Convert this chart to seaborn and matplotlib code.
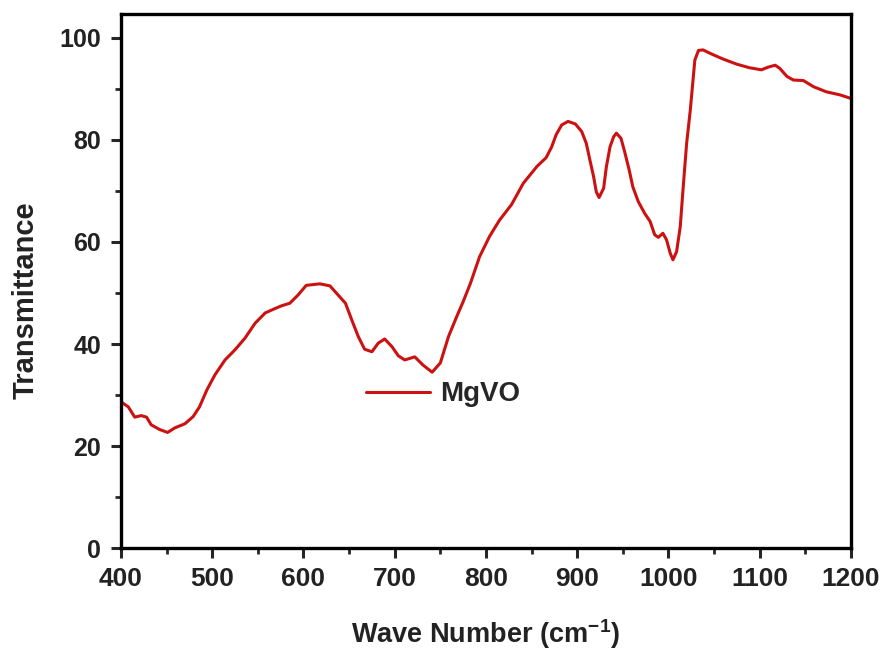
import pandas as pd
import seaborn as sns
import matplotlib.pyplot as plt
from matplotlib.ticker import MultipleLocator

# FTIR spectrum
wave_number = [400, 408, 415, 422, 428, 433, 442, 451, 459, 470, 479, 486, 494, 503,
               514, 525, 536, 547, 558, 568, 576, 585, 594, 603, 618, 629, 636, 646,
               653, 660, 667, 675, 682, 689, 697, 704, 711, 722, 731, 741, 750, 759,
               768, 775, 783, 793, 804, 815, 828, 841, 856, 866, 872, 877, 883, 890,
               898, 905, 910, 914, 918, 921, 924, 929, 932, 936, 940, 943, 948, 952,
               957, 961, 967, 974, 980, 985, 989, 994, 998, 1002, 1005, 1009, 1013,
               1016, 1020, 1024, 1027, 1029, 1033, 1038, 1046, 1060, 1075, 1089, 1102,
               1109, 1117, 1122, 1130, 1137, 1148, 1159, 1173, 1188, 1200]
transmittance = [28.7, 27.7, 25.7, 26.0, 25.7, 24.2, 23.3, 22.7, 23.6, 24.4, 25.8, 27.7,
                 31.0, 34.0, 36.9, 38.9, 41.2, 44.1, 46.1, 46.9, 47.5, 48.0, 49.6, 51.5,
                 51.8, 51.4, 50.0, 48.0, 44.7, 41.5, 39.0, 38.5, 40.2, 41.0, 39.5, 37.7,
                 36.9, 37.5, 35.9, 34.5, 36.3, 41.5, 45.4, 48.3, 51.9, 57.1, 61.1, 64.3,
                 67.3, 71.5, 74.8, 76.5, 78.6, 81.0, 82.9, 83.6, 83.1, 81.6, 79.3, 76.0,
                 72.8, 69.8, 68.7, 70.5, 74.7, 78.6, 80.6, 81.3, 80.3, 77.7, 74.1, 70.8,
                 67.9, 65.6, 64.0, 61.4, 60.9, 61.7, 60.4, 57.8, 56.5, 58.1, 63.0, 70.2,
                 79.3, 85.8, 91.7, 95.6, 97.5, 97.6, 96.9, 95.8, 94.8, 94.1, 93.7, 94.2,
                 94.6, 94.0, 92.4, 91.7, 91.6, 90.4, 89.4, 88.8, 88.1]
sample = "MgVO"

df = pd.DataFrame({"Wave Number": wave_number, "Transmittance": transmittance})

sns.set_style("ticks")
plt.rcParams["font.family"] = ["Liberation Sans", "DejaVu Sans"]
plt.rcParams["mathtext.default"] = "regular"

fig = plt.figure(figsize=(8.9, 6.49), dpi=100)
ax = fig.add_axes([0.136, 0.155, 0.82, 0.824])

sns.lineplot(data=df, x="Wave Number", y="Transmittance", ax=ax,
             color="#cc1111", linewidth=2.2, label=sample)

ax.set_xlim(400, 1200)
ax.set_ylim(0, 104.7)
ax.xaxis.set_major_locator(MultipleLocator(100))
ax.xaxis.set_minor_locator(MultipleLocator(50))
ax.yaxis.set_major_locator(MultipleLocator(20))
ax.yaxis.set_minor_locator(MultipleLocator(10))

for side in ["left", "bottom", "top", "right"]:
    ax.spines[side].set_linewidth(2.4)
    ax.spines[side].set_color("black")
ax.tick_params(which="major", direction="out", length=7.5, width=2.2,
               top=False, right=False)
ax.tick_params(which="minor", direction="out", length=4, width=2.0,
               top=False, right=False)
ax.tick_params(axis="y", which="major", pad=7)
ax.tick_params(axis="x", which="major", pad=6)

for lab in ax.get_yticklabels():
    lab.set_fontsize(18)
    lab.set_fontweight("bold")
    lab.set_color("#222222")
for lab in ax.get_xticklabels():
    lab.set_fontsize(19)
    lab.set_fontweight("bold")
    lab.set_color("#222222")

ax.set_ylabel("Transmittance", fontsize=21, fontweight="bold", color="#222222")
ax.yaxis.set_label_coords(-0.111, 0.464)
ax.set_xlabel("Wave Number (cm$^{-1}$)", fontsize=19.5, fontweight="bold",
              color="#222222")
ax.xaxis.set_label_coords(0.5, -0.128)

ax.legend(loc="center left", bbox_to_anchor=(0.336, 0.288), frameon=False,
          borderaxespad=0, borderpad=0, handlelength=2.3, handletextpad=0.36,
          prop={"weight": "bold", "size": 20})

fig.savefig("out.png", dpi=100)
